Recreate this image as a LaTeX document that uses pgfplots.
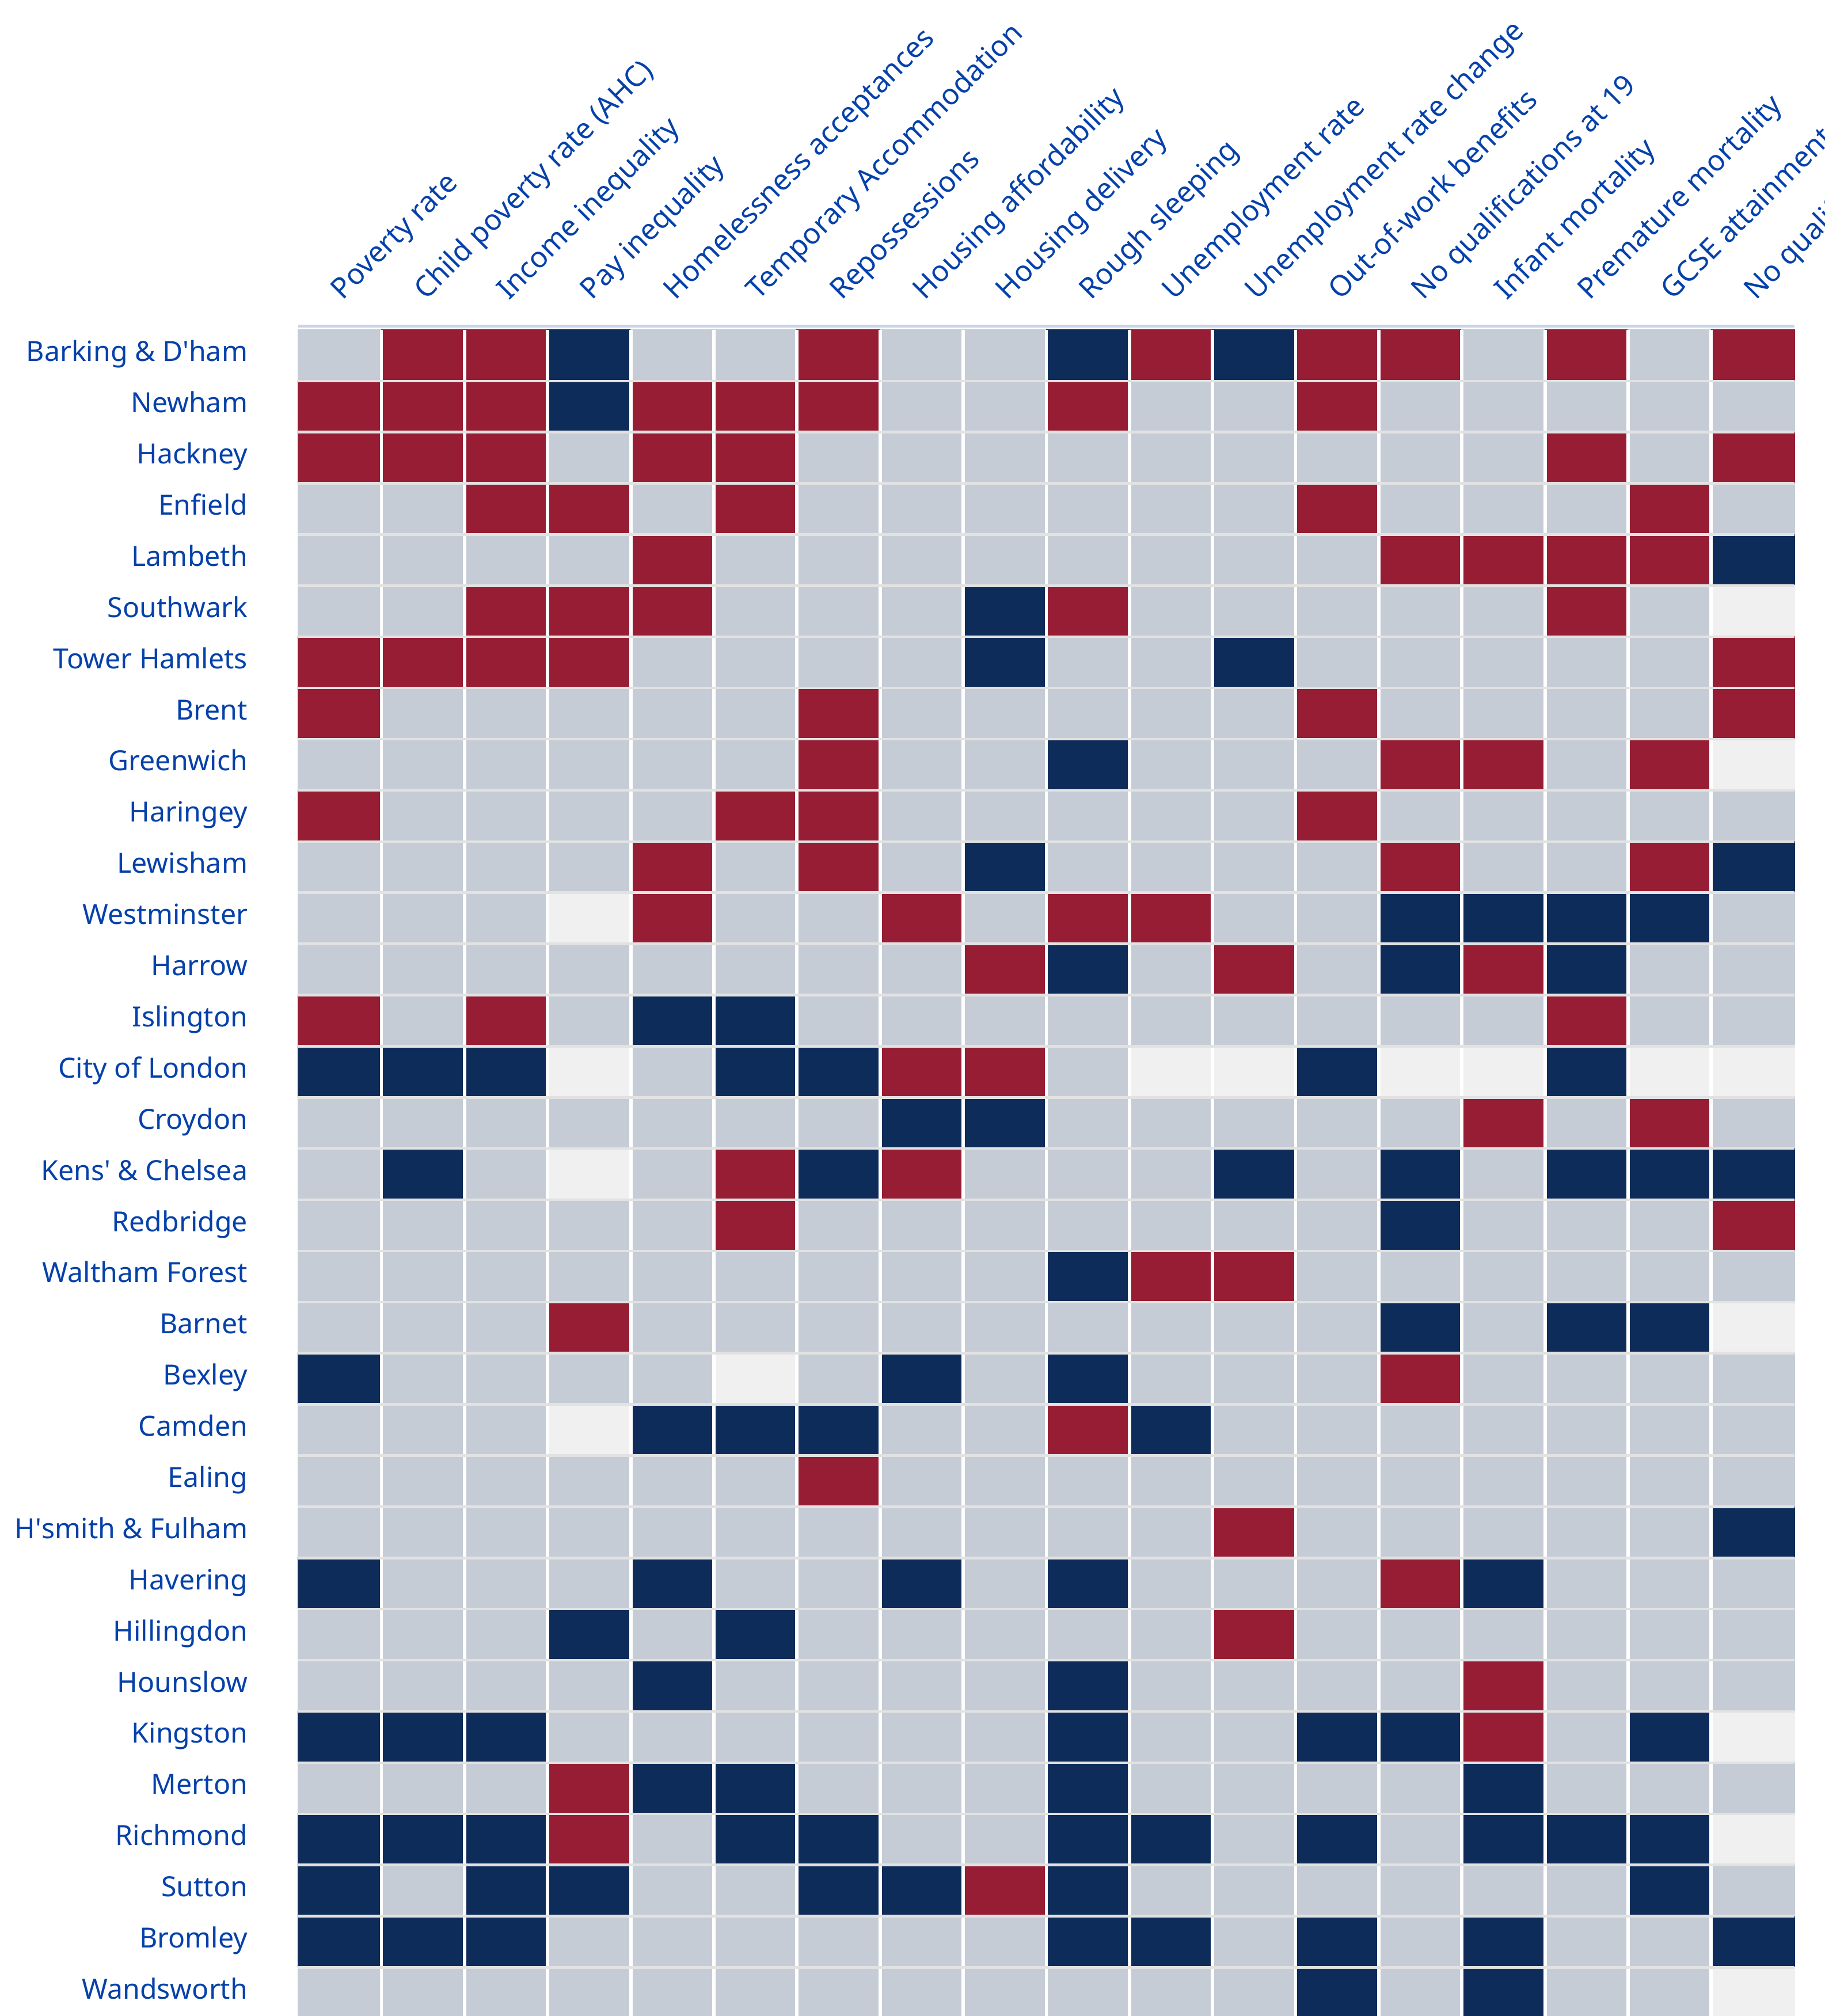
\documentclass[border=0pt]{standalone}
\usepackage{pgfplots}
\pgfplotsset{compat=1.18}
\usepackage{fontspec}
\setmainfont{Noto Sans}
\definecolor{cred}{RGB}{150,29,51}
\definecolor{cnavy}{RGB}{14,44,90}
\definecolor{cgray}{RGB}{197,204,213}
\definecolor{clight}{RGB}{240,240,240}
\definecolor{lblue}{RGB}{5,65,170}
\definecolor{topline}{RGB}{200,211,232}
\definecolor{sepgray}{RGB}{226,226,226}
\begin{document}
\begin{tikzpicture}
\useasboundingbox (0,0) rectangle (709.5pt,-784pt);
\clip (0,0) rectangle (709.5pt,-784pt);
\begin{axis}[
  at={(116pt,-128.25pt)}, anchor=north west,
  scale only axis, width=581.75pt, height=656.7pt,
  xmin=-0.5, xmax=17.5, ymin=-0.5, ymax=32.5,
  y dir=reverse, enlargelimits=false, clip=false, axis on top,
  axis line style={draw=none},
  major tick length=0pt, minor tick length=0pt,
  xtick={0,...,17}, ytick={0,...,32},
  minor xtick={0.5,1.5,...,16.5},
  minor ytick={0.5,1.5,...,31.5},
  xminorgrids=true, yminorgrids=true,
  minor x grid style={white, line width=1.3pt},
  minor y grid style={sepgray, line width=1pt},
  xticklabel pos=upper,
  tick label style={color=lblue},
  xticklabel style={font=\fontsize{11.2}{13.5}\selectfont, xshift=1.1pt, yshift=11.25pt, rotate=45, anchor=base west, inner sep=0pt},
  yticklabel style={font=\fontsize{10.8}{13}\selectfont, xshift=-19.5pt, yshift=-2.35pt, anchor=base east, inner sep=0pt},
  xticklabels={Poverty rate, Child poverty rate (AHC), Income inequality, Pay inequality, Homelessness acceptances, Temporary Accommodation, Repossessions, Housing affordability, Housing delivery, Rough sleeping, Unemployment rate, Unemployment rate change, Out-of-work benefits, No qualifications at 19, Infant mortality, Premature mortality, GCSE attainment, No qualifications (working age)},
  yticklabels={Barking \& D\textquotesingle ham, Newham, Hackney, Enfield, Lambeth, Southwark, Tower Hamlets, Brent, Greenwich, Haringey, Lewisham, Westminster, Harrow, Islington, City of London, Croydon, Kens\textquotesingle\ \& Chelsea, Redbridge, Waltham Forest, Barnet, Bexley, Camden, Ealing, H\textquotesingle smith \& Fulham, Havering, Hillingdon, Hounslow, Kingston, Merton, Richmond, Sutton, Bromley, Wandsworth},
  colormap={boro}{rgb255=(240,240,240) rgb255=(14,44,90) rgb255=(197,204,213) rgb255=(150,29,51)},
  colormap access=direct,
]
\addplot[matrix plot*, mesh/cols=18, point meta=explicit] table[row sep=\\, meta=c] {
x y c\\
0 0 2\\ 1 0 3\\ 2 0 3\\ 3 0 1\\ 4 0 2\\ 5 0 2\\ 6 0 3\\ 7 0 2\\ 8 0 2\\ 9 0 1\\ 10 0 3\\ 11 0 1\\ 12 0 3\\ 13 0 3\\ 14 0 2\\ 15 0 3\\ 16 0 2\\ 17 0 3\\
0 1 3\\ 1 1 3\\ 2 1 3\\ 3 1 1\\ 4 1 3\\ 5 1 3\\ 6 1 3\\ 7 1 2\\ 8 1 2\\ 9 1 3\\ 10 1 2\\ 11 1 2\\ 12 1 3\\ 13 1 2\\ 14 1 2\\ 15 1 2\\ 16 1 2\\ 17 1 2\\
0 2 3\\ 1 2 3\\ 2 2 3\\ 3 2 2\\ 4 2 3\\ 5 2 3\\ 6 2 2\\ 7 2 2\\ 8 2 2\\ 9 2 2\\ 10 2 2\\ 11 2 2\\ 12 2 2\\ 13 2 2\\ 14 2 2\\ 15 2 3\\ 16 2 2\\ 17 2 3\\
0 3 2\\ 1 3 2\\ 2 3 3\\ 3 3 3\\ 4 3 2\\ 5 3 3\\ 6 3 2\\ 7 3 2\\ 8 3 2\\ 9 3 2\\ 10 3 2\\ 11 3 2\\ 12 3 3\\ 13 3 2\\ 14 3 2\\ 15 3 2\\ 16 3 3\\ 17 3 2\\
0 4 2\\ 1 4 2\\ 2 4 2\\ 3 4 2\\ 4 4 3\\ 5 4 2\\ 6 4 2\\ 7 4 2\\ 8 4 2\\ 9 4 2\\ 10 4 2\\ 11 4 2\\ 12 4 2\\ 13 4 3\\ 14 4 3\\ 15 4 3\\ 16 4 3\\ 17 4 1\\
0 5 2\\ 1 5 2\\ 2 5 3\\ 3 5 3\\ 4 5 3\\ 5 5 2\\ 6 5 2\\ 7 5 2\\ 8 5 1\\ 9 5 3\\ 10 5 2\\ 11 5 2\\ 12 5 2\\ 13 5 2\\ 14 5 2\\ 15 5 3\\ 16 5 2\\ 17 5 0\\
0 6 3\\ 1 6 3\\ 2 6 3\\ 3 6 3\\ 4 6 2\\ 5 6 2\\ 6 6 2\\ 7 6 2\\ 8 6 1\\ 9 6 2\\ 10 6 2\\ 11 6 1\\ 12 6 2\\ 13 6 2\\ 14 6 2\\ 15 6 2\\ 16 6 2\\ 17 6 3\\
0 7 3\\ 1 7 2\\ 2 7 2\\ 3 7 2\\ 4 7 2\\ 5 7 2\\ 6 7 3\\ 7 7 2\\ 8 7 2\\ 9 7 2\\ 10 7 2\\ 11 7 2\\ 12 7 3\\ 13 7 2\\ 14 7 2\\ 15 7 2\\ 16 7 2\\ 17 7 3\\
0 8 2\\ 1 8 2\\ 2 8 2\\ 3 8 2\\ 4 8 2\\ 5 8 2\\ 6 8 3\\ 7 8 2\\ 8 8 2\\ 9 8 1\\ 10 8 2\\ 11 8 2\\ 12 8 2\\ 13 8 3\\ 14 8 3\\ 15 8 2\\ 16 8 3\\ 17 8 0\\
0 9 3\\ 1 9 2\\ 2 9 2\\ 3 9 2\\ 4 9 2\\ 5 9 3\\ 6 9 3\\ 7 9 2\\ 8 9 2\\ 9 9 2\\ 10 9 2\\ 11 9 2\\ 12 9 3\\ 13 9 2\\ 14 9 2\\ 15 9 2\\ 16 9 2\\ 17 9 2\\
0 10 2\\ 1 10 2\\ 2 10 2\\ 3 10 2\\ 4 10 3\\ 5 10 2\\ 6 10 3\\ 7 10 2\\ 8 10 1\\ 9 10 2\\ 10 10 2\\ 11 10 2\\ 12 10 2\\ 13 10 3\\ 14 10 2\\ 15 10 2\\ 16 10 3\\ 17 10 1\\
0 11 2\\ 1 11 2\\ 2 11 2\\ 3 11 0\\ 4 11 3\\ 5 11 2\\ 6 11 2\\ 7 11 3\\ 8 11 2\\ 9 11 3\\ 10 11 3\\ 11 11 2\\ 12 11 2\\ 13 11 1\\ 14 11 1\\ 15 11 1\\ 16 11 1\\ 17 11 2\\
0 12 2\\ 1 12 2\\ 2 12 2\\ 3 12 2\\ 4 12 2\\ 5 12 2\\ 6 12 2\\ 7 12 2\\ 8 12 3\\ 9 12 1\\ 10 12 2\\ 11 12 3\\ 12 12 2\\ 13 12 1\\ 14 12 3\\ 15 12 1\\ 16 12 2\\ 17 12 2\\
0 13 3\\ 1 13 2\\ 2 13 3\\ 3 13 2\\ 4 13 1\\ 5 13 1\\ 6 13 2\\ 7 13 2\\ 8 13 2\\ 9 13 2\\ 10 13 2\\ 11 13 2\\ 12 13 2\\ 13 13 2\\ 14 13 2\\ 15 13 3\\ 16 13 2\\ 17 13 2\\
0 14 1\\ 1 14 1\\ 2 14 1\\ 3 14 0\\ 4 14 2\\ 5 14 1\\ 6 14 1\\ 7 14 3\\ 8 14 3\\ 9 14 2\\ 10 14 0\\ 11 14 0\\ 12 14 1\\ 13 14 0\\ 14 14 0\\ 15 14 1\\ 16 14 0\\ 17 14 0\\
0 15 2\\ 1 15 2\\ 2 15 2\\ 3 15 2\\ 4 15 2\\ 5 15 2\\ 6 15 2\\ 7 15 1\\ 8 15 1\\ 9 15 2\\ 10 15 2\\ 11 15 2\\ 12 15 2\\ 13 15 2\\ 14 15 3\\ 15 15 2\\ 16 15 3\\ 17 15 2\\
0 16 2\\ 1 16 1\\ 2 16 2\\ 3 16 0\\ 4 16 2\\ 5 16 3\\ 6 16 1\\ 7 16 3\\ 8 16 2\\ 9 16 2\\ 10 16 2\\ 11 16 1\\ 12 16 2\\ 13 16 1\\ 14 16 2\\ 15 16 1\\ 16 16 1\\ 17 16 1\\
0 17 2\\ 1 17 2\\ 2 17 2\\ 3 17 2\\ 4 17 2\\ 5 17 3\\ 6 17 2\\ 7 17 2\\ 8 17 2\\ 9 17 2\\ 10 17 2\\ 11 17 2\\ 12 17 2\\ 13 17 1\\ 14 17 2\\ 15 17 2\\ 16 17 2\\ 17 17 3\\
0 18 2\\ 1 18 2\\ 2 18 2\\ 3 18 2\\ 4 18 2\\ 5 18 2\\ 6 18 2\\ 7 18 2\\ 8 18 2\\ 9 18 1\\ 10 18 3\\ 11 18 3\\ 12 18 2\\ 13 18 2\\ 14 18 2\\ 15 18 2\\ 16 18 2\\ 17 18 2\\
0 19 2\\ 1 19 2\\ 2 19 2\\ 3 19 3\\ 4 19 2\\ 5 19 2\\ 6 19 2\\ 7 19 2\\ 8 19 2\\ 9 19 2\\ 10 19 2\\ 11 19 2\\ 12 19 2\\ 13 19 1\\ 14 19 2\\ 15 19 1\\ 16 19 1\\ 17 19 0\\
0 20 1\\ 1 20 2\\ 2 20 2\\ 3 20 2\\ 4 20 2\\ 5 20 0\\ 6 20 2\\ 7 20 1\\ 8 20 2\\ 9 20 1\\ 10 20 2\\ 11 20 2\\ 12 20 2\\ 13 20 3\\ 14 20 2\\ 15 20 2\\ 16 20 2\\ 17 20 2\\
0 21 2\\ 1 21 2\\ 2 21 2\\ 3 21 0\\ 4 21 1\\ 5 21 1\\ 6 21 1\\ 7 21 2\\ 8 21 2\\ 9 21 3\\ 10 21 1\\ 11 21 2\\ 12 21 2\\ 13 21 2\\ 14 21 2\\ 15 21 2\\ 16 21 2\\ 17 21 2\\
0 22 2\\ 1 22 2\\ 2 22 2\\ 3 22 2\\ 4 22 2\\ 5 22 2\\ 6 22 3\\ 7 22 2\\ 8 22 2\\ 9 22 2\\ 10 22 2\\ 11 22 2\\ 12 22 2\\ 13 22 2\\ 14 22 2\\ 15 22 2\\ 16 22 2\\ 17 22 2\\
0 23 2\\ 1 23 2\\ 2 23 2\\ 3 23 2\\ 4 23 2\\ 5 23 2\\ 6 23 2\\ 7 23 2\\ 8 23 2\\ 9 23 2\\ 10 23 2\\ 11 23 3\\ 12 23 2\\ 13 23 2\\ 14 23 2\\ 15 23 2\\ 16 23 2\\ 17 23 1\\
0 24 1\\ 1 24 2\\ 2 24 2\\ 3 24 2\\ 4 24 1\\ 5 24 2\\ 6 24 2\\ 7 24 1\\ 8 24 2\\ 9 24 1\\ 10 24 2\\ 11 24 2\\ 12 24 2\\ 13 24 3\\ 14 24 1\\ 15 24 2\\ 16 24 2\\ 17 24 2\\
0 25 2\\ 1 25 2\\ 2 25 2\\ 3 25 1\\ 4 25 2\\ 5 25 1\\ 6 25 2\\ 7 25 2\\ 8 25 2\\ 9 25 2\\ 10 25 2\\ 11 25 3\\ 12 25 2\\ 13 25 2\\ 14 25 2\\ 15 25 2\\ 16 25 2\\ 17 25 2\\
0 26 2\\ 1 26 2\\ 2 26 2\\ 3 26 2\\ 4 26 1\\ 5 26 2\\ 6 26 2\\ 7 26 2\\ 8 26 2\\ 9 26 1\\ 10 26 2\\ 11 26 2\\ 12 26 2\\ 13 26 2\\ 14 26 3\\ 15 26 2\\ 16 26 2\\ 17 26 2\\
0 27 1\\ 1 27 1\\ 2 27 1\\ 3 27 2\\ 4 27 2\\ 5 27 2\\ 6 27 2\\ 7 27 2\\ 8 27 2\\ 9 27 1\\ 10 27 2\\ 11 27 2\\ 12 27 1\\ 13 27 1\\ 14 27 3\\ 15 27 2\\ 16 27 1\\ 17 27 0\\
0 28 2\\ 1 28 2\\ 2 28 2\\ 3 28 3\\ 4 28 1\\ 5 28 1\\ 6 28 2\\ 7 28 2\\ 8 28 2\\ 9 28 1\\ 10 28 2\\ 11 28 2\\ 12 28 2\\ 13 28 2\\ 14 28 1\\ 15 28 2\\ 16 28 2\\ 17 28 2\\
0 29 1\\ 1 29 1\\ 2 29 1\\ 3 29 3\\ 4 29 2\\ 5 29 1\\ 6 29 1\\ 7 29 2\\ 8 29 2\\ 9 29 1\\ 10 29 1\\ 11 29 2\\ 12 29 1\\ 13 29 2\\ 14 29 1\\ 15 29 1\\ 16 29 1\\ 17 29 0\\
0 30 1\\ 1 30 2\\ 2 30 1\\ 3 30 1\\ 4 30 2\\ 5 30 2\\ 6 30 1\\ 7 30 1\\ 8 30 3\\ 9 30 1\\ 10 30 2\\ 11 30 2\\ 12 30 2\\ 13 30 2\\ 14 30 2\\ 15 30 2\\ 16 30 1\\ 17 30 2\\
0 31 1\\ 1 31 1\\ 2 31 1\\ 3 31 2\\ 4 31 2\\ 5 31 2\\ 6 31 2\\ 7 31 2\\ 8 31 2\\ 9 31 1\\ 10 31 1\\ 11 31 2\\ 12 31 1\\ 13 31 2\\ 14 31 1\\ 15 31 2\\ 16 31 2\\ 17 31 1\\
0 32 2\\ 1 32 2\\ 2 32 2\\ 3 32 2\\ 4 32 2\\ 5 32 2\\ 6 32 2\\ 7 32 2\\ 8 32 2\\ 9 32 2\\ 10 32 2\\ 11 32 2\\ 12 32 1\\ 13 32 2\\ 14 32 1\\ 15 32 2\\ 16 32 2\\ 17 32 0\\
};
\draw[topline, line width=1.1pt] ([yshift=1.4pt]axis cs:-0.5,-0.5) -- ([yshift=1.4pt]axis cs:17.5,-0.5);
\end{axis}
\end{tikzpicture}
\end{document}
